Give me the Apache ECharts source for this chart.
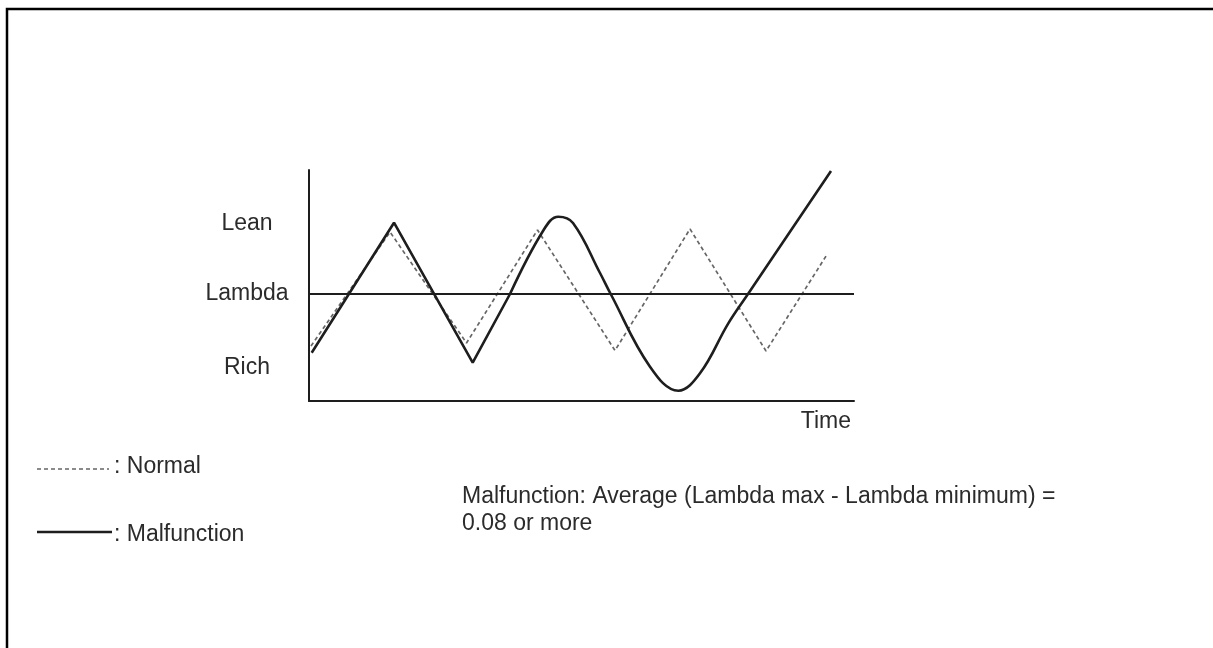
<!DOCTYPE html>
<html>
<head>
<meta charset="utf-8">
<script src="https://cdn.jsdelivr.net/npm/echarts@6/dist/echarts.min.js"></script>
<style>
  html, body { margin: 0; padding: 0; background: #ffffff; }
  #chart { width: 1213px; height: 648px; }
</style>
</head>
<body>
<div id="chart"></div>
<script>
// Time runs left to right in arbitrary units; mixture is the deviation from
// lambda (0 = stoichiometric, positive = lean, negative = rich).

// Normal sensor: regular switching around lambda
const normalTime = [2, 81, 157.5, 228.5, 306, 381, 457, 517.7];
const normalMix  = [-52, 62, -49, 64, -56.5, 65, -57, 39];

// Malfunction: first cycles switch with sharp corners
const faultSharpTime = [2.7, 85, 163.7, 201];
const faultSharpMix  = [-58.7, 71.3, -68.7, 0];

// Malfunction: later swing becomes slow and rounded
const faultSmoothTime = [201, 234, 249.3, 264, 291, 301.7, 341, 369.3, 391, 419.3, 439, 522];
const faultSmoothMix  = [0, 63, 77.3, 71, 21, 0, -72.7, -96.7, -79.3, -29.3, 0, 123];

// Axis ranges and the mixture labels on the vertical axis
const timeRange = [0, 545];
const mixRange = [-107, 124];
const mixTickValues = [70, 0, -74];
const mixTickLabels = ['Lean', 'Lambda', 'Rich'];

const zip = (xs, ys) => xs.map((x, i) => [x, ys[i]]);

const FONT = '"Liberation Sans", Arial, sans-serif';
const FONT_SIZE = 23;
const TEXT_COLOR = '#2b2b2b';
const INK = '#1e1e1e';
const textFont = FONT_SIZE + 'px ' + FONT;

const chart = echarts.init(document.getElementById('chart'), null, { renderer: 'canvas' });

chart.setOption({
  animation: false,
  backgroundColor: '#ffffff',
  grid: { left: 309, top: 170, width: 545, height: 231, containLabel: false },
  xAxis: {
    type: 'value',
    min: timeRange[0],
    max: timeRange[1],
    axisLine: { show: true, onZero: false, lineStyle: { color: INK, width: 2 } },
    axisTick: { show: false },
    axisLabel: { show: false },
    splitLine: { show: false }
  },
  yAxis: {
    type: 'value',
    min: mixRange[0],
    max: mixRange[1],
    axisLine: { show: true, onZero: false, lineStyle: { color: INK, width: 2 } },
    axisTick: { show: false },
    splitLine: { show: false },
    axisLabel: {
      show: true,
      customValues: mixTickValues,
      margin: 62,
      align: 'center',
      color: TEXT_COLOR,
      fontFamily: FONT,
      fontSize: FONT_SIZE,
      formatter: (v) => {
        const i = mixTickValues.indexOf(v);
        return i >= 0 ? mixTickLabels[i] : '';
      }
    }
  },
  series: [
    {
      name: 'Normal',
      type: 'line',
      data: zip(normalTime, normalMix),
      symbol: 'none',
      lineStyle: { color: '#666666', width: 1.7, type: [4, 3] },
      z: 2
    },
    {
      name: 'Malfunction',
      type: 'line',
      data: zip(faultSharpTime, faultSharpMix),
      symbol: 'none',
      lineStyle: { color: INK, width: 2.6 },
      z: 3,
      markLine: {
        silent: true,
        symbol: 'none',
        label: { show: false },
        lineStyle: { color: INK, width: 2, type: 'solid' },
        data: [{ yAxis: 0 }]
      }
    },
    {
      name: 'Malfunction',
      type: 'line',
      data: zip(faultSmoothTime, faultSmoothMix),
      smooth: 0.4,
      symbol: 'none',
      lineStyle: { color: INK, width: 2.6 },
      z: 3
    }
  ],
  graphic: [
    // page frame
    {
      type: 'rect',
      shape: { x: 7, y: 9, width: 1400, height: 900 },
      style: { fill: 'none', stroke: '#000000', lineWidth: 2.5 },
      silent: true
    },
    // axis title
    {
      type: 'text',
      x: 851, y: 422,
      style: { text: 'Time', fill: TEXT_COLOR, font: textFont, textAlign: 'right', textVerticalAlign: 'middle' }
    },
    // key
    {
      type: 'line',
      shape: { x1: 37, y1: 469, x2: 109, y2: 469 },
      style: { stroke: '#666666', lineWidth: 1.7, lineDash: [4, 3] }
    },
    {
      type: 'text',
      x: 114, y: 467,
      style: { text: ': Normal', fill: TEXT_COLOR, font: textFont, textVerticalAlign: 'middle' }
    },
    {
      type: 'line',
      shape: { x1: 37, y1: 532, x2: 112, y2: 532 },
      style: { stroke: INK, lineWidth: 2.6 }
    },
    {
      type: 'text',
      x: 114, y: 535,
      style: { text: ': Malfunction', fill: TEXT_COLOR, font: textFont, textVerticalAlign: 'middle' }
    },
    // criterion note
    {
      type: 'text',
      x: 462, y: 483,
      style: {
        text: 'Malfunction: Average (Lambda max - Lambda minimum) =\n0.08 or more',
        fill: TEXT_COLOR,
        font: textFont,
        lineHeight: 27,
        textVerticalAlign: 'top'
      }
    }
  ]
});
</script>
</body>
</html>
